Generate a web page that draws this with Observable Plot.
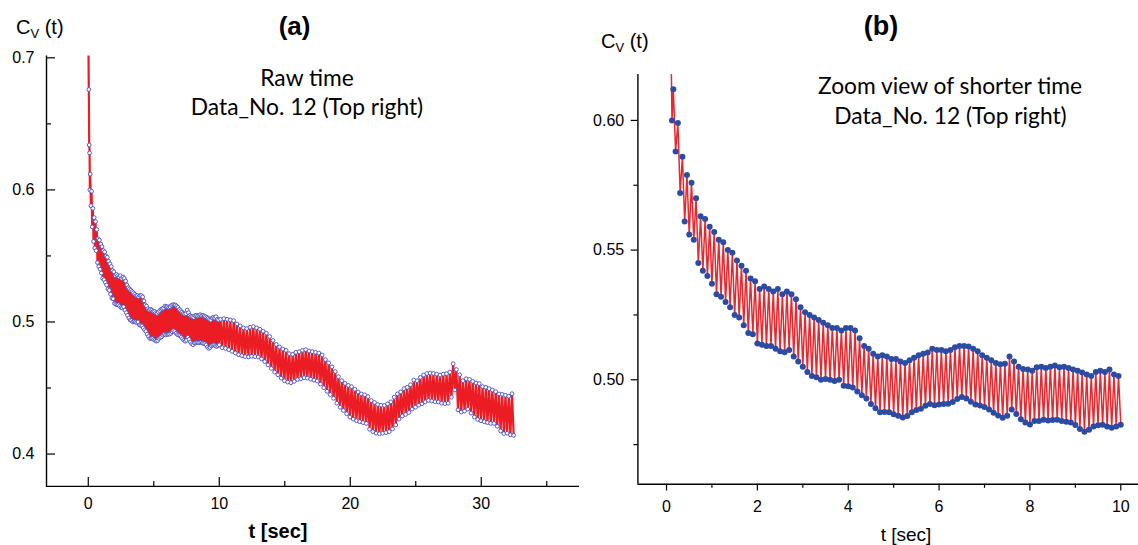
<!DOCTYPE html>
<html><head><meta charset="utf-8">
<script src="https://cdn.jsdelivr.net/npm/d3@7"></script>
<script src="https://cdn.jsdelivr.net/npm/@observablehq/plot@0.6"></script>
<style>
html,body{margin:0;padding:0;background:#fff;}
#root{position:relative;width:1138px;height:545px;overflow:hidden;font-family:"Liberation Sans",Arial,sans-serif;color:#000;}
.panel{position:absolute;top:0;}
.lbl{position:absolute;white-space:nowrap;line-height:1;transform:translate(-50%,-50%);}
.ann{font-family:Lato,"Open Sans",sans-serif;font-size:22.8px;}
.cv{position:absolute;white-space:nowrap;line-height:1;font-size:20px;transform:translateY(-50%);}
.cv sub{font-size:13px;vertical-align:-4px;}
</style></head><body><div id="root"></div>
<script>
// ---------- data ----------
// first samples near t = 0 (seconds) and C_V values
const headT = [0, 0.04, 0.07, 0.1, 0.12];
const headV = [0.72, 0.676, 0.634, 0.628, 0.600];
// short-time data, upper swing at t = 0.15, 0.25, ... 9.95
const zoomUpperStart = 0.15, zoomStep = 0.1;
const zoomUpper = [0.612,0.599,0.586,0.579,0.576,0.570,0.563,0.562,0.559,0.557,
0.554,0.553,0.550,0.549,0.546,0.544,0.542,0.539,0.538,0.535,
0.536,0.535,0.534,0.535,0.533,0.534,0.533,0.531,0.528,0.526,
0.525,0.524,0.523,0.522,0.521,0.520,0.520,0.519,0.520,0.520,
0.519,0.516,0.513,0.512,0.510,0.509,0.5095,0.509,0.508,0.508,
0.507,0.5065,0.5075,0.5085,0.5095,0.510,0.5105,0.512,0.5115,0.5115,
0.511,0.5115,0.5125,0.513,0.513,0.5128,0.512,0.511,0.5095,0.5085,
0.5075,0.5065,0.506,0.5062,0.509,0.507,0.505,0.5042,0.504,0.5035,
0.5048,0.505,0.5045,0.505,0.5055,0.5048,0.505,0.5045,0.504,0.5035,
0.5028,0.502,0.5015,0.503,0.5035,0.503,0.504,0.502,0.5015];
// short-time data, lower swing at t = 0.2, 0.3, ... 10.0
const zoomLowerStart = 0.2;
const zoomLower = [0.588,0.572,0.561,0.556,0.554,0.545,0.542,0.540,0.537,0.533,
0.532,0.530,0.528,0.525,0.524,0.521,0.518,0.5176,0.514,0.5135,
0.513,0.513,0.512,0.511,0.5106,0.5115,0.509,0.507,0.505,0.503,
0.5015,0.501,0.500,0.5003,0.500,0.4995,0.500,0.4977,0.4975,0.497,
0.4955,0.494,0.4928,0.4907,0.489,0.4875,0.4876,0.4875,0.4867,0.4861,
0.4855,0.486,0.4875,0.4883,0.4888,0.490,0.4907,0.4902,0.4905,0.4907,
0.4908,0.4914,0.4926,0.4934,0.4928,0.4915,0.4905,0.4901,0.4895,0.4885,
0.4873,0.4862,0.4854,0.4861,0.4885,0.4868,0.4848,0.4835,0.4828,0.4841,
0.4841,0.4846,0.4843,0.4845,0.4846,0.4841,0.4838,0.4835,0.4826,0.481,
0.480,0.4807,0.482,0.4825,0.4827,0.482,0.4815,0.482,0.4827];
// long-time data (t > 10 s), upper swing at t = 10.1, 10.35, ...
const rawUpperStart = 10.1, rawStep = 0.25;
const rawUpper = [0.502,0.5025,0.502,0.5015,0.501,0.4985,0.497,0.4955,0.495,0.496,
0.4965,0.4955,0.4945,0.493,0.4915,0.489,0.486,0.483,0.481,0.4795,
0.4785,0.476,0.4755,0.477,0.4775,0.4785,0.479,0.478,0.4775,0.477,
0.4765,0.475,0.4715,0.469,0.466,0.4625,0.4585,0.4555,0.4535,0.452,
0.451,0.449,0.447,0.4455,0.4448,0.4435,0.4405,0.439,0.4375,0.437,
0.4368,0.438,0.4395,0.443,0.4455,0.447,0.4495,0.4505,0.4525,0.456,
0.4555,0.458,0.4598,0.461,0.4613,0.461,0.4605,0.4598,0.4605,0.4608,
0.462,0.4684,0.464,0.460,0.4555,0.457,0.4565,0.455,0.4538,0.4533,
0.451,0.4505,0.4495,0.4485,0.4472,0.4455,0.4452,0.4445,0.4438,0.4457];
// long-time data, lower swing at t = 10.225, 10.475, ...
const rawLowerStart = 10.225;
const rawLower = [0.4805,0.480,0.479,0.4778,0.4765,0.4752,0.4745,0.4738,0.4735,0.474,
0.4738,0.4735,0.472,0.470,0.4675,0.4648,0.462,0.460,0.4575,0.4555,
0.4545,0.454,0.455,0.4565,0.457,0.4578,0.4575,0.4567,0.456,0.4553,
0.453,0.4502,0.4475,0.445,0.4422,0.4385,0.4355,0.433,0.4305,0.428,
0.4265,0.4252,0.4245,0.4238,0.4232,0.4188,0.417,0.4158,0.4154,0.4158,
0.4162,0.417,0.419,0.422,0.4265,0.4288,0.430,0.4315,0.434,0.4355,
0.437,0.438,0.4395,0.4406,0.4402,0.4396,0.4394,0.4385,0.4382,0.4385,
0.443,0.4485,0.4335,0.4318,0.4325,0.434,0.431,0.428,0.4262,0.4252,
0.4245,0.4238,0.4232,0.4232,0.421,0.4175,0.4155,0.4158,0.4145,0.4142];
// tick values
const aYMajor = [0.4, 0.5, 0.6, 0.7], aYMinor = [0.45, 0.55, 0.65];
const aXMajor = [0, 10, 20, 30], aXMinor = [5, 15, 25, 35];
const bYMajor = [0.50, 0.55, 0.60], bYMinor = [0.475, 0.525, 0.575];
const bXMajor = [0, 2, 4, 6, 8, 10], bXMinor = [1, 3, 5, 7, 9];

// ---------- build point sequences ----------
const zoomPts = headT.map((t, i) => ({t, v: headV[i]}));
for (let i = 0; i < zoomUpper.length; i++) {
  zoomPts.push({t: zoomUpperStart + zoomStep * i, v: zoomUpper[i]});
  if (i < zoomLower.length) zoomPts.push({t: zoomLowerStart + zoomStep * i, v: zoomLower[i]});
}
const rawPts = zoomPts.slice();
for (let i = 0; i < rawUpper.length; i++) {
  rawPts.push({t: rawUpperStart + rawStep * i, v: rawUpper[i]});
  if (i < rawLower.length) rawPts.push({t: rawLowerStart + rawStep * i, v: rawLower[i]});
}

const RED = "#ec1c24", BLUE_A = "#4b4bb8", BLUE_B = "#2c4ba3";
const font = "'Liberation Sans', Arial, sans-serif";

// ---------- panel (a) ----------
const A = {w: 580, h: 545, ml: 46, mr: 1, mt: 55.6, mb: 59.1};
const aFW = A.w - A.ml - A.mr, aFH = A.h - A.mt - A.mb;
const aX = [-3.19, 37.5], aY = [0.3755, 0.7013];
const plotA = Plot.plot({
  width: A.w, height: A.h,
  marginLeft: A.ml, marginRight: A.mr, marginTop: A.mt, marginBottom: A.mb,
  x: {domain: aX}, y: {domain: aY},
  style: {fontFamily: font, fontSize: "16px", background: "transparent", color: "#000", overflow: "visible"},
  marks: [
    Plot.line(rawPts, {x: "t", y: "v", stroke: RED, strokeWidth: 2.2, clip: true}),
    Plot.dot(rawPts, {x: "t", y: "v", r: 1.9, stroke: BLUE_A, strokeWidth: 0.9, fill: "white", clip: true}),
    Plot.ruleX([aX[0]], {stroke: "#000", strokeWidth: 1.4}),
    Plot.ruleY([aY[0]], {stroke: "#000", strokeWidth: 1.4}),
    Plot.tickY(aYMajor, {y: d => d, stroke: "#000", strokeWidth: 1.2, insetRight: aFW - 9}),
    Plot.tickY(aYMinor, {y: d => d, stroke: "#000", strokeWidth: 1.2, insetRight: aFW - 5}),
    Plot.tickX(aXMajor, {x: d => d, stroke: "#000", strokeWidth: 1.2, insetTop: aFH - 9}),
    Plot.tickX(aXMinor, {x: d => d, stroke: "#000", strokeWidth: 1.2, insetTop: aFH - 5}),
    Plot.axisY(aYMajor, {tickSize: 0, tickPadding: 12, tickFormat: ".1f", label: null, fontSize: 16}),
    Plot.axisX(aXMajor, {tickSize: 0, tickPadding: 11.6, label: null, fontSize: 16})
  ]
});

// ---------- panel (b) ----------
const B = {left: 580, w: 558, h: 545, ml: 57.4, mr: 0, mt: 74, mb: 61.2};
const bX = [-0.63, 10.39], bY = [0.4597, 0.6177];
const plotB = Plot.plot({
  width: B.w, height: B.h,
  marginLeft: B.ml, marginRight: B.mr, marginTop: B.mt, marginBottom: B.mb,
  x: {domain: bX}, y: {domain: bY},
  style: {fontFamily: font, fontSize: "16px", background: "transparent", color: "#000", overflow: "visible"},
  marks: [
    Plot.line(zoomPts, {x: "t", y: "v", stroke: "#e8282f", strokeWidth: 1.5, clip: true}),
    Plot.dot(zoomPts, {x: "t", y: "v", r: 3, fill: BLUE_B, stroke: "none", clip: true}),
    Plot.ruleX([bX[0]], {stroke: "#000", strokeWidth: 1.4}),
    Plot.ruleY([bY[0]], {stroke: "#000", strokeWidth: 1.4}),
    Plot.axisY(bYMajor, {tickSize: 6.7, tickPadding: 7, tickFormat: ".2f", label: null, fontSize: 16, strokeWidth: 1.2}),
    Plot.axisY(bYMinor, {tickSize: 4, tickFormat: () => "", label: null, strokeWidth: 1.2}),
    Plot.axisX(bXMajor, {tickSize: 6.7, tickPadding: 9.8, label: null, fontSize: 16, strokeWidth: 1.2}),
    Plot.axisX(bXMinor, {tickSize: 4, tickFormat: () => "", label: null, strokeWidth: 1.2})
  ]
});

// ---------- assemble ----------
const root = document.getElementById("root");
function place(el, left) { const d = document.createElement("div"); d.className = "panel"; d.style.left = left + "px"; d.appendChild(el); root.appendChild(d); }
place(plotA, 0);
place(plotB, B.left);

function label(html, cx, cy, cls, style) {
  const d = document.createElement("div");
  d.className = cls; d.innerHTML = html;
  d.style.left = cx + "px"; d.style.top = cy + "px";
  if (style) Object.assign(d.style, style);
  root.appendChild(d);
}
label("(a)", 294.6, 26, "lbl", {fontWeight: "bold", fontSize: "26px"});
label("(b)", 880.9, 26, "lbl", {fontWeight: "bold", fontSize: "27px"});
label("C<sub>V</sub> (t)", 16, 27.8, "cv");
label("C<sub>V</sub> (t)", 601, 41.7, "cv");
label("Raw time", 307, 77, "lbl ann");
label("Data_No. 12 (Top right)", 307, 106, "lbl ann");
label("Zoom view of shorter time", 950, 85, "lbl ann");
label("Data_No. 12 (Top right)", 950.5, 114.7, "lbl ann");
label("t [sec]", 278, 531, "lbl", {fontWeight: "bold", fontSize: "20px"});
label("t [sec]", 906, 533.5, "lbl", {fontSize: "19px"});
</script></body></html>
